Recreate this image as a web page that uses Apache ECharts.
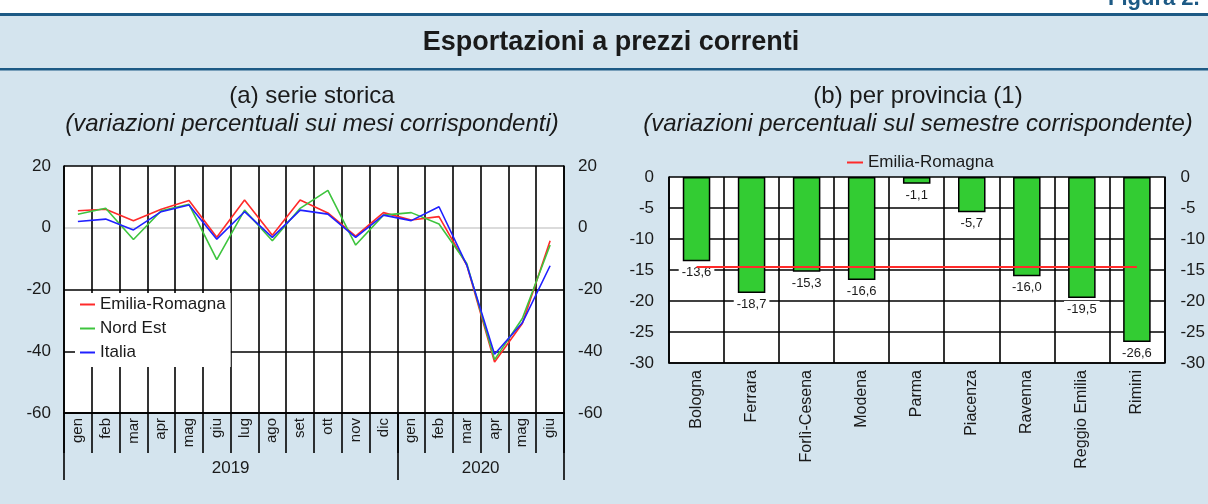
<!DOCTYPE html>
<html><head><meta charset="utf-8">
<script src="https://cdn.jsdelivr.net/npm/echarts@6/dist/echarts.min.js"></script>
<style>html,body{margin:0;background:#fff}#chart{width:1208px;height:504px}</style>
</head><body><div id="chart"></div>
<script>
const months = ['gen','feb','mar','apr','mag','giu','lug','ago','set','ott','nov','dic','gen','feb','mar','apr','mag','giu'];
const years = ['2019','2020'];
const emiliaRomagna = [5.5,6.0,2.3,6.0,8.8,-3.1,9.0,-2.4,9.0,4.8,-2.7,4.9,2.5,3.6,-12.1,-43.5,-31.0,-4.2];
const nordEst = [4.4,6.3,-3.8,5.5,7.6,-10.3,5.7,-4.2,6.3,12.1,-5.6,4.1,4.9,1.2,-11.6,-42.7,-29.4,-5.6];
const italia = [2.0,2.8,-0.7,5.2,7.4,-3.7,5.2,-3.1,5.7,4.4,-3.1,4.1,2.3,6.8,-12.1,-41.0,-30.8,-12.3];
const provinces = ['Bologna','Ferrara','Forlì-Cesena','Modena','Parma','Piacenza','Ravenna','Reggio Emilia','Rimini'];
const provinceValues = [-13.6,-18.7,-15.3,-16.6,-1.1,-5.7,-16.0,-19.5,-26.6];
const regionValue = -14.5;

const font = '"Liberation Sans", Arial, sans-serif';
const ink = '#1a1a1a';
const navy = '#1d5a85';
const black = {lineStyle:{color:'#000',width:1.6}};
const comma = v => v.toFixed(1).replace('.', ',');

const chart = echarts.init(document.getElementById('chart'));

const txt = (x, y, text, f) => ({type:'text', x, y, style:{text, font:f, fill:ink, align:'center', verticalAlign:'middle'}});

chart.setOption({
  backgroundColor:'#d4e4ee',
  animation:false,
  textStyle:{fontFamily:font, color:ink},
  graphic:[
    {type:'rect', shape:{x:0,y:0,width:1208,height:13}, style:{fill:'#fff'}},
    {type:'text', x:1108, y:10, style:{text:'Figura 2.', font:'bold 22px '+font, fill:navy, align:'left', verticalAlign:'bottom'}},
    {type:'rect', shape:{x:0,y:13,width:1208,height:3}, style:{fill:navy}},
    {type:'rect', shape:{x:0,y:68,width:1208,height:2.5}, style:{fill:navy}},
    txt(611, 43, 'Esportazioni a prezzi correnti', 'bold 27px '+font),
    txt(312, 96, '(a) serie storica', '24px '+font),
    txt(312, 124, '(variazioni percentuali sui mesi corrispondenti)', 'italic 24px '+font),
    txt(918, 96, '(b) per provincia (1)', '24px '+font),
    txt(918, 124, '(variazioni percentuali sul semestre corrispondente)', 'italic 24px '+font)
  ],
  legend:[
    {data:['Emilia-Romagna','Nord Est','Italia'], orient:'vertical', left:75, top:293,
     backgroundColor:'#fff', padding:[3,5,6,5], itemGap:7, itemWidth:15, itemHeight:2, icon:'rect',
     textStyle:{fontSize:17, lineHeight:17, color:ink}},
    {data:['Emilia-Romagna'], left:847, top:154, padding:0, itemWidth:16, itemHeight:2, icon:'rect',
     textStyle:{fontSize:17, color:ink}}
  ],
  grid:[
    {left:64, top:166, width:500, height:247, show:true, backgroundColor:'#fff', borderWidth:0},
    {left:669, top:177, width:500, height:186, show:true, backgroundColor:'#fff', borderWidth:0}
  ],
  xAxis:[
    {type:'category', gridIndex:0, position:'bottom', data:months, axisLine:{onZero:false, ...black},
     axisTick:{show:true, interval:0, length:40, ...black},
     splitLine:{show:true, interval:0, ...black},
     axisLabel:{interval:0, rotate:90, margin:5, fontSize:15, color:ink}},
    {type:'category', gridIndex:0, position:'bottom', data:months, axisLine:{show:true, onZero:false, ...black},
     axisTick:{show:true, interval:(i) => i === 0 || i === 12, length:67, ...black},
     splitLine:{show:false}, axisLabel:{show:false}},
    {type:'value', gridIndex:0, position:'bottom', min:0, max:18, interval:3,
     axisLine:{show:false, onZero:false}, axisTick:{show:false}, splitLine:{show:false},
     axisLabel:{margin:47, fontSize:17, color:ink, formatter:v => v === 6 ? years[0] : v === 15 ? years[1] : ''}},
    {type:'category', gridIndex:1, position:'bottom', data:provinces, axisLine:{onZero:false, ...black}, axisTick:{show:false},
     splitLine:{show:true, interval:0, ...black},
     axisLabel:{interval:0, rotate:90, margin:7, fontSize:16, color:ink}}
  ],
  yAxis:[
    {type:'value', gridIndex:0, min:-60, max:20, interval:20, axisLine:{show:true, ...black}, axisTick:{show:false},
     splitLine:{lineStyle:{color:['#000','#000','#000','#cfcfcf','#000'], width:1.6}},
     axisLabel:{margin:13, fontSize:17, color:ink}},
    {type:'value', gridIndex:0, position:'right', min:-60, max:20, interval:20, axisLine:{show:true, ...black},
     axisTick:{show:false}, splitLine:{show:false}, axisLabel:{margin:14, fontSize:17, color:ink}},
    {type:'value', gridIndex:1, min:-30, max:0, interval:5, axisLine:{show:true, ...black}, axisTick:{show:false},
     splitLine:{...black}, axisLabel:{margin:15, fontSize:17, color:ink}},
    {type:'value', gridIndex:1, position:'right', min:-30, max:0, interval:5, axisLine:{show:true, ...black},
     axisTick:{show:false}, splitLine:{show:false}, axisLabel:{margin:16, fontSize:17, color:ink}}
  ],
  series:[
    {name:'Emilia-Romagna', type:'line', xAxisIndex:0, yAxisIndex:0, data:emiliaRomagna, symbol:'none',
     lineStyle:{color:'#ff2a2a', width:1.6}, itemStyle:{color:'#ff2a2a'}},
    {name:'Nord Est', type:'line', xAxisIndex:0, yAxisIndex:0, data:nordEst, symbol:'none',
     lineStyle:{color:'#3ec43e', width:1.6}, itemStyle:{color:'#3ec43e'}},
    {name:'Italia', type:'line', xAxisIndex:0, yAxisIndex:0, data:italia, symbol:'none',
     lineStyle:{color:'#2020ff', width:1.6}, itemStyle:{color:'#2020ff'}},
    {name:'Province', type:'bar', xAxisIndex:3, yAxisIndex:2, data:provinceValues, barWidth:'50%',
     itemStyle:{color:'#33cc33', borderColor:'#000', borderWidth:1.5},
     label:{show:true, position:'bottom', distance:3, backgroundColor:'#fff', padding:[2,3,1,3],
            fontSize:13, color:ink, formatter:p => comma(p.value)}},
    {name:'Emilia-Romagna', type:'line', xAxisIndex:3, yAxisIndex:2, data:provinces.map(() => regionValue),
     symbol:'none', lineStyle:{color:'#ff2a2a', width:2}, itemStyle:{color:'#ff2a2a'}}
  ]
});
</script>
</body></html>
